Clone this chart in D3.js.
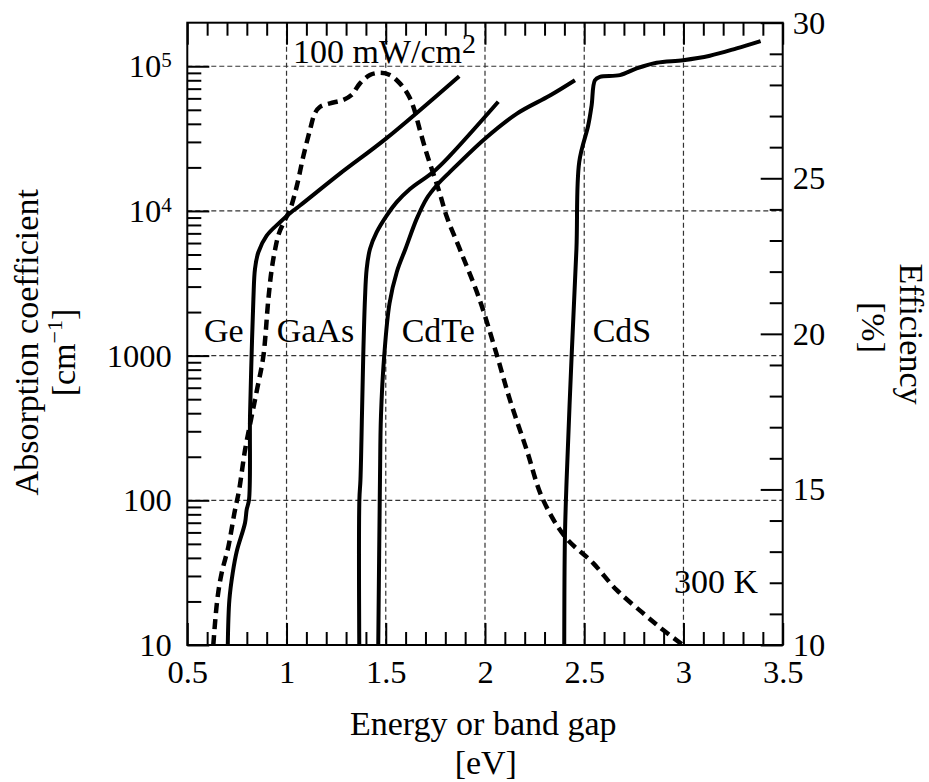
<!DOCTYPE html>
<html>
<head>
<meta charset="utf-8">
<script src="https://cdn.jsdelivr.net/npm/d3@7"></script>
<style>
  html, body { margin: 0; padding: 0; background: #fff; }
  svg text { font-family: "Liberation Serif", "Times New Roman", serif; fill: #000; }
</style>
</head>
<body>
<svg id="chart" width="929" height="782"></svg>
<script>
// ---------- data ----------
const energyMajorTicks = [0.5, 1, 1.5, 2, 2.5, 3, 3.5];
const energyTickLabels = ["0.5", "1", "1.5", "2", "2.5", "3", "3.5"];
const absMajorTicks = [10, 100, 1000, 1e4, 1e5];
const absTickLabels = ["10", "100", "1000", "10^4", "10^5"];
const effMajorTicks = [10, 15, 20, 25, 30];
const effTickLabels = ["10", "15", "20", "25", "30"];

const geEnergy = [0.704, 0.712, 0.729, 0.749, 0.791, 0.799, 0.811, 0.816, 0.824, 0.833, 0.841, 0.858, 0.900, 0.967, 1.034, 1.068, 1.269, 1.501, 1.870];
const geAlpha  = [10, 20.5, 31.6, 44.3, 70, 86, 101, 382, 1006, 2460, 3970, 5180, 6750, 8360, 10060, 10900, 18100, 31600, 85400];

const gaasEnergy = [1.3665, 1.367, 1.3725, 1.380, 1.3866, 1.3952, 1.4038, 1.4204, 1.4542, 1.5045, 1.5549, 1.6219, 1.7393, 1.8234, 2.0668];
const gaasAlpha  = [10, 101, 139, 386, 1006, 2460, 3970, 5460, 7130, 9290, 11500, 14200, 18600, 24100, 56800];

const cdteEnergy = [1.4622, 1.4708, 1.4758, 1.4924, 1.5190, 1.5560, 1.6000, 1.6557, 1.7061, 1.7564, 1.8234, 1.9997, 2.1610, 2.3272, 2.4532];
const cdteAlpha  = [10, 139, 382, 1006, 2300, 3800, 5500, 8810, 12200, 15000, 18600, 31600, 47100, 62800, 80100];

const cdsEnergy = [2.3993, 2.4028, 2.4113, 2.4365, 2.4607, 2.4748, 2.5202, 2.5373, 2.5539, 2.5791, 2.6798, 2.7640, 2.8647, 2.9987, 3.1332, 3.2677, 3.3886];
const cdsAlpha  = [10, 56.3, 139, 995, 5460, 21800, 39100, 53800, 80100, 84600, 86800, 96600, 105800, 110200, 118300, 132900, 149300];

const effEnergy = [0.631, 0.651, 0.673, 0.707, 0.737, 0.761, 0.791, 0.824, 0.851, 0.883, 0.908, 0.925, 0.942, 0.962, 0.992, 1.017, 1.051, 1.084, 1.118, 1.143, 1.169, 1.219, 1.286, 1.328, 1.370, 1.420, 1.471, 1.521, 1.571, 1.613, 1.639, 1.672, 1.706, 1.739, 1.772, 1.807, 1.879, 1.970, 2.055, 2.126, 2.210, 2.289, 2.403, 2.545, 2.663, 2.797, 2.898, 2.991];
const effValue  = [10.00, 11.45, 12.31, 13.16, 14.23, 14.98, 16.27, 17.34, 18.20, 19.27, 21.09, 22.06, 22.70, 23.23, 23.66, 23.98, 24.73, 25.69, 26.55, 27.09, 27.30, 27.41, 27.52, 27.68, 28.05, 28.32, 28.39, 28.32, 28.05, 27.68, 27.30, 26.55, 25.80, 25.16, 24.52, 23.77, 22.63, 21.15, 19.42, 17.87, 16.27, 14.72, 13.48, 12.63, 11.77, 11.02, 10.48, 10.03];

const materialLabels = ["Ge", "GaAs", "CdTe", "CdS"];

// ---------- layout ----------
const L = 187.3, R = 782.7, T = 22.7, B = 645;
const svg = d3.select("#chart");

const x = d3.scaleLinear().domain([0.5, 3.5]).range([L, R]);
const yA = d3.scaleLog().domain([10, 2e5]).range([B, T]);
const yE = d3.scaleLinear().domain([10, 30]).range([B, T]);

const tickFont = 32.5;
const labelFont = 34;

// grid
const grid = svg.append("g").attr("stroke", "#333").attr("stroke-width", 1.2).attr("stroke-dasharray", "5,3");
grid.selectAll("line.v").data(energyMajorTicks.filter(d => d > 0.5 && d < 3.5)).join("line")
  .attr("x1", d => x(d)).attr("x2", d => x(d)).attr("y1", T).attr("y2", B);
grid.selectAll("line.h").data(absMajorTicks.filter(d => d > 10)).join("line")
  .attr("x1", L).attr("x2", R).attr("y1", d => yA(d)).attr("y2", d => yA(d));

// minor ticks
const minorEnergy = d3.range(6, 35).map(d => d / 10).filter(d => Math.abs(d * 2 - Math.round(d * 2)) > 1e-6);
const minorAbs = [];
[10, 100, 1000, 1e4, 1e5].forEach(dec => { for (let k = 2; k <= 9; k++) { const v = dec * k; if (v < 2e5) minorAbs.push(v); } });
const minorEff = d3.range(11, 30).filter(d => d % 5 !== 0);

function styleAxis(g) {
  g.select(".domain").remove();
  g.selectAll("line").attr("stroke", "#000").attr("stroke-width", 2);
  g.selectAll("text").attr("font-size", tickFont).attr("font-family", "Liberation Serif");
}

// bottom
svg.append("g").attr("transform", `translate(0,${B})`)
  .call(d3.axisBottom(x).tickValues(minorEnergy).tickSize(-13).tickFormat(""))
  .call(styleAxis);
svg.append("g").attr("transform", `translate(0,${B})`)
  .call(d3.axisBottom(x).tickValues(energyMajorTicks).tickSize(-22).tickPadding(15.2)
    .tickFormat((d, i) => energyTickLabels[i]))
  .call(styleAxis);
// top
svg.append("g").attr("transform", `translate(0,${T})`)
  .call(d3.axisTop(x).tickValues(minorEnergy).tickSize(-13).tickFormat(""))
  .call(styleAxis);
svg.append("g").attr("transform", `translate(0,${T})`)
  .call(d3.axisTop(x).tickValues(energyMajorTicks).tickSize(-22).tickFormat(""))
  .call(styleAxis);
// left
svg.append("g").attr("transform", `translate(${L},0)`)
  .call(d3.axisLeft(yA).tickValues(minorAbs).tickSize(-14).tickFormat(""))
  .call(styleAxis);
const leftMajor = svg.append("g").attr("transform", `translate(${L},0)`)
  .call(d3.axisLeft(yA).tickValues(absMajorTicks).tickSize(-22).tickPadding(15.6)
    .tickFormat((d, i) => absTickLabels[i]))
  .call(styleAxis);
leftMajor.selectAll("text").each(function() {
  const t = d3.select(this);
  const s = t.text();
  if (s.includes("^")) {
    const [base, exp] = s.split("^");
    t.text(null);
    t.append("tspan").text(base);
    t.append("tspan").attr("font-size", 21).attr("dy", -10).text(exp);
  }
});
// right
svg.append("g").attr("transform", `translate(${R},0)`)
  .call(d3.axisRight(yE).tickValues(minorEff).tickSize(-13).tickFormat(""))
  .call(styleAxis);
svg.append("g").attr("transform", `translate(${R},0)`)
  .call(d3.axisRight(yE).tickValues(effMajorTicks).tickSize(-22).tickPadding(10)
    .tickFormat((d, i) => effTickLabels[i]))
  .call(styleAxis);

// frame
svg.append("rect").attr("x", L).attr("y", T).attr("width", R - L).attr("height", B - T)
  .attr("fill", "none").attr("stroke", "#000").attr("stroke-width", 2);

// curves
svg.append("clipPath").attr("id", "plotclip").append("rect")
  .attr("x", L).attr("y", T - 2).attr("width", R - L).attr("height", B - T + 2);
const plot = svg.append("g").attr("clip-path", "url(#plotclip)");

const absLine = d3.line().x(d => x(d[0])).y(d => yA(d[1])).curve(d3.curveCatmullRom.alpha(0.5));
const effLine = d3.line().x(d => x(d[0])).y(d => yE(d[1])).curve(d3.curveCatmullRom.alpha(0.5));

const absSeries = [
  d3.zip(geEnergy, geAlpha),
  d3.zip(gaasEnergy, gaasAlpha),
  d3.zip(cdteEnergy, cdteAlpha),
  d3.zip(cdsEnergy, cdsAlpha)
];
plot.selectAll("path.abs").data(absSeries).join("path")
  .attr("class", "abs")
  .attr("d", absLine)
  .attr("fill", "none").attr("stroke", "#000").attr("stroke-width", 4)
  .attr("stroke-linejoin", "round");

plot.append("path")
  .datum(d3.zip(effEnergy, effValue))
  .attr("d", effLine)
  .attr("fill", "none").attr("stroke", "#000").attr("stroke-width", 4.5)
  .attr("stroke-dasharray", "10,6");

// annotations
const ann = svg.append("g").attr("font-size", labelFont);
const labelX = [204, 276.7, 401.7, 592.7];
materialLabels.forEach((s, i) => {
  ann.append("text").attr("x", labelX[i]).attr("y", 341.7).text(s);
});
const pw = ann.append("text").attr("x", 293).attr("y", 63.3);
pw.append("tspan").text("100 mW/cm");
pw.append("tspan").attr("font-size", 28).attr("dy", -10).text("2");
ann.append("text").attr("x", 674).attr("y", 593.3).text("300 K");

// axis titles
const titles = svg.append("g").attr("font-size", labelFont);
titles.append("text").attr("x", 483.3).attr("y", 735).attr("text-anchor", "middle").text("Energy or band gap");
titles.append("text").attr("x", 485.8).attr("y", 774).attr("text-anchor", "middle").text("[eV]");

titles.append("text").attr("transform", "translate(38,342.3) rotate(-90)")
  .attr("text-anchor", "middle").text("Absorption coefficient");
const cm = titles.append("text").attr("transform", "translate(75,352.5) rotate(-90)")
  .attr("text-anchor", "middle");
cm.append("tspan").text("[cm");
cm.append("tspan").attr("font-size", 22).attr("dy", -13).text("\u22121");
cm.append("tspan").attr("dy", 13).text("]");

titles.append("text").attr("transform", "translate(900,334) rotate(90)")
  .attr("text-anchor", "middle").text("Efficiency");
titles.append("text").attr("transform", "translate(861.7,327.5) rotate(90)")
  .attr("text-anchor", "middle").text("[%]");
</script>
</body>
</html>
